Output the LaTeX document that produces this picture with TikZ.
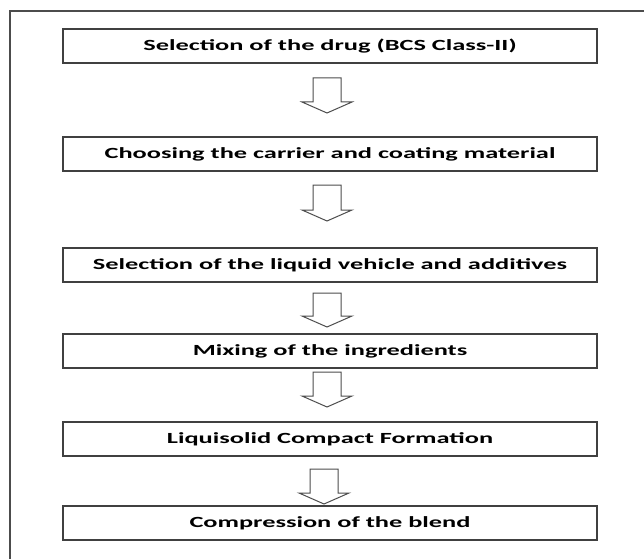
\documentclass[tikz,border=0pt]{standalone}
\usepackage{fontspec}
\setmainfont{Carlito}[FakeStretch=1.7]
\usetikzlibrary{calc}

\begin{document}
\begin{tikzpicture}[x=1pt, y=-1pt,
    stepbox/.style={draw=black!75, line width=2pt, minimum width=534pt, minimum height=34pt, inner sep=0pt, font=\fontsize{15.5}{18}\selectfont\bfseries},
    blockarrow/.style={draw=black!70, line width=1pt, line join=miter,
        to path={let \p1=(\tikztostart), \p2=(\tikztotarget) in
            (\x1-14,\y1) -- (\x1+14,\y1) -- (\x1+14,\y2+11) -- (\x1+25,\y2+11) -- (\x1,\y2) -- (\x1-25,\y2+11) -- (\x1-14,\y2+11) -- cycle}}]

    \useasboundingbox (0,0) rectangle (644,559);
    \draw [black!70, line width=1.5pt] (10,559) -- (10,11) -- (644,11);

    \node[stepbox] (a) at (330, 46) {Selection of the drug (BCS Class-II)};
    \node[stepbox] (b) at (330, 154) {Choosing the carrier and coating material};
    \node[stepbox] (c) at (330, 265) {Selection of the liquid vehicle and additives};
    \node[stepbox] (d) at (330, 351) {Mixing of the ingredients};
    \node[stepbox] (e) at (330, 439) {Liquisolid Compact Formation};
    \node[stepbox] (f) at (330, 523) {Compression of the blend};

    \draw [blockarrow] ([xshift=-3pt, yshift=-14pt]a.south) to ([xshift=-3pt, yshift=23pt]b.north);
    \draw [blockarrow] ([xshift=-3pt, yshift=-13pt]b.south) to ([xshift=-3pt, yshift=26pt]c.north);
    \draw [blockarrow] ([xshift=-3pt, yshift=-10pt]c.south) to ([xshift=-3pt, yshift=6pt]d.north);
    \draw [blockarrow] ([xshift=-3pt, yshift=-3pt]d.south) to ([xshift=-3pt, yshift=14pt]e.north);
    \draw [blockarrow] ([xshift=-6pt, yshift=-12pt]e.south) to ([xshift=-6pt, yshift=1pt]f.north);

\end{tikzpicture}
\end{document}
